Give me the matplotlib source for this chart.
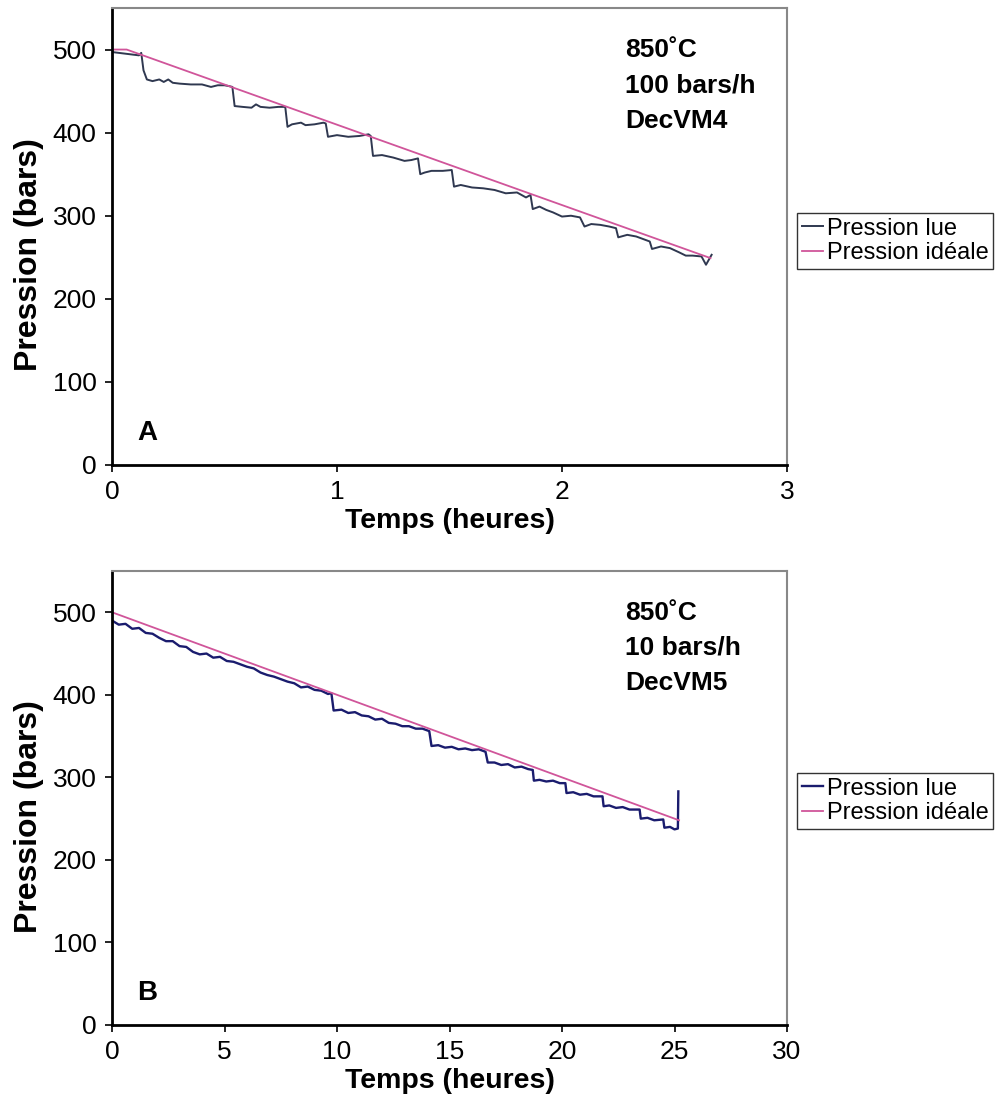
import numpy as np
import matplotlib
matplotlib.use('Agg')
import matplotlib.pyplot as plt

plt.rcParams['font.family'] = ['Liberation Sans', 'DejaVu Sans']

# panel A : 100 bars/h, DecVM4
tA_lue = [0.00, 0.03, 0.06, 0.09, 0.12, 0.13, 0.14, 0.155, 0.18, 0.21, 0.23, 0.25, 0.27,
          0.30, 0.35, 0.40, 0.44, 0.47, 0.50, 0.52, 0.535, 0.545, 0.58, 0.62, 0.64, 0.66,
          0.70, 0.74, 0.77, 0.78, 0.80, 0.84, 0.86, 0.90, 0.94, 0.95, 0.96, 1.00, 1.05,
          1.10, 1.14, 1.15, 1.16, 1.20, 1.25, 1.30, 1.33, 1.36, 1.37, 1.39, 1.42, 1.47,
          1.51, 1.52, 1.55, 1.60, 1.65, 1.70, 1.75, 1.80, 1.84, 1.86, 1.87, 1.90, 1.93,
          1.96, 2.00, 2.04, 2.08, 2.10, 2.13, 2.17, 2.21, 2.24, 2.25, 2.29, 2.33, 2.37,
          2.39, 2.40, 2.44, 2.48, 2.52, 2.55, 2.58, 2.62, 2.64, 2.665]
pA_lue = [497, 496, 495, 494, 493, 496, 475, 464, 462, 464, 461, 464, 460,
          459, 458, 458, 455, 457, 457, 456, 455, 432, 431, 430, 434, 431,
          430, 431, 431, 407, 410, 412, 409, 410, 412, 411, 395, 397, 395,
          396, 398, 396, 372, 373, 370, 366, 367, 369, 350, 352, 354, 354,
          355, 335, 337, 334, 333, 331, 327, 328, 322, 325, 308, 311, 307,
          304, 299, 300, 298, 287, 290, 289, 287, 285, 274, 277, 275, 271,
          269, 260, 263, 261, 256, 252, 252, 251, 241, 253]
tA_ideal = [0.0, 0.065, 2.66]
pA_ideal = [500, 500, 249]

# panel B : 10 bars/h, DecVM5
tB_lue = [0.0, 0.3, 0.6, 0.9, 1.2, 1.5, 1.8, 2.1, 2.4, 2.7, 3.0, 3.3, 3.6, 3.9, 4.2,
          4.5, 4.8, 5.1, 5.4, 5.7, 6.0, 6.3, 6.6, 6.9, 7.2, 7.5, 7.8, 8.1, 8.4, 8.7,
          9.0, 9.3, 9.6, 9.75, 9.85, 10.2, 10.5, 10.8, 11.1, 11.4, 11.7, 12.0, 12.3,
          12.6, 12.9, 13.2, 13.5, 13.8, 14.1, 14.2, 14.5, 14.8, 15.1, 15.4, 15.7,
          16.0, 16.3, 16.6, 16.7, 17.0, 17.3, 17.6, 17.9, 18.2, 18.5, 18.7, 18.75,
          19.0, 19.3, 19.6, 19.9, 20.15, 20.2, 20.5, 20.8, 21.1, 21.4, 21.8, 21.85,
          22.1, 22.4, 22.7, 23.0, 23.45, 23.5, 23.8, 24.1, 24.5, 24.55, 24.8, 25.0,
          25.15, 25.17]
pB_lue = [490, 485, 486, 480, 481, 475, 474, 469, 465, 465, 459, 458, 452, 449, 450,
          445, 446, 441, 440, 437, 434, 432, 427, 424, 422, 419, 416, 414, 409, 410,
          406, 405, 401, 402, 381, 382, 378, 379, 375, 374, 370, 371, 366,
          365, 362, 362, 359, 359, 356, 338, 339, 336, 337, 334, 335,
          333, 334, 331, 318, 318, 315, 316, 312, 313, 310, 309, 296,
          297, 295, 296, 293, 293, 281, 282, 279, 280, 277, 277, 265,
          266, 263, 264, 261, 261, 250, 251, 248, 249, 239, 240, 237,
          238, 283]
tB_ideal = [0.0, 25.2]
pB_ideal = [500, 248]

W, H = 997, 1106
fig = plt.figure(figsize=(W / 100.0, H / 100.0), dpi=100)

panels = [
  dict(rect=[112 / W, 1 - 465 / H, 675 / W, 457 / H], t=tA_lue, p=pA_lue, ti=tA_ideal, pi=pA_ideal,
       xmax=3, xticks=[0, 1, 2, 3], color='#2f3850', lw=1.4, letter='A',
       txt='850\u02daC\n100 bars/h\nDecVM4', leg_y=1 - 213 / H),
  dict(rect=[112 / W, 1 - 1025 / H, 675 / W, 454 / H], t=tB_lue, p=pB_lue, ti=tB_ideal, pi=pB_ideal,
       xmax=30, xticks=[0, 5, 10, 15, 20, 25, 30], color='#1a1c6e', lw=1.7, letter='B',
       txt='850\u02daC\n10 bars/h\nDecVM5', leg_y=1 - 773 / H),
]

for pn in panels:
  ax = fig.add_axes(pn['rect'])
  l1, = ax.plot(pn['t'], pn['p'], color=pn['color'], lw=pn['lw'], label='Pression lue')
  l2, = ax.plot(pn['ti'], pn['pi'], color='#d0559a', lw=1.3, label='Pression id\u00e9ale')
  ax.set_xlim(0, pn['xmax'])
  ax.set_ylim(0, 550)
  ax.set_xticks(pn['xticks'])
  ax.set_yticks([0, 100, 200, 300, 400, 500])
  ax.tick_params(direction='out', length=5, width=1.2, labelsize=19, pad=6, color='black')
  for s in ['left', 'bottom']:
    ax.spines[s].set_linewidth(2)
    ax.spines[s].set_color('black')
  for s in ['top', 'right']:
    ax.spines[s].set_linewidth(1.5)
    ax.spines[s].set_color('#888888')
  ax.set_xlabel('Temps (heures)', fontsize=20.5, fontweight='bold', labelpad=3)
  ax.set_ylabel('Pression (bars)', fontsize=23, fontweight='bold')
  ax.yaxis.set_label_coords(-0.1, 0.46)
  ax.text(0.76, 0.935, pn['txt'], transform=ax.transAxes, fontsize=19, fontweight='bold',
          va='top', ha='left', linespacing=1.6)
  ax.text(0.037, 0.07, pn['letter'], transform=ax.transAxes, fontsize=20, fontweight='bold',
          va='center', ha='left')
  leg = fig.legend(handles=[l1, l2], loc='upper left', bbox_to_anchor=(797 / W, pn['leg_y']),
                   fontsize=17, frameon=True, fancybox=False, handlelength=0.9,
                   handletextpad=0.15, borderpad=0.2, labelspacing=0.1, borderaxespad=0)
  leg.get_frame().set_edgecolor('black')
  leg.get_frame().set_linewidth(1.0)

plt.savefig('out.png', dpi=100)
